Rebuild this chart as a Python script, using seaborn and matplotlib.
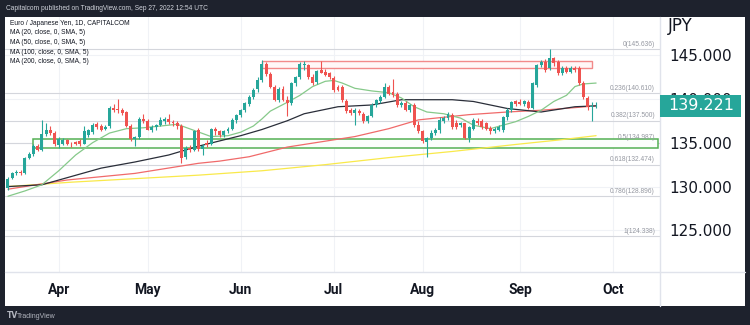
import numpy as np
import pandas as pd
import matplotlib
matplotlib.use("Agg")
import matplotlib.pyplot as plt
import matplotlib.transforms as mtrans
from matplotlib.patches import Rectangle
from matplotlib.lines import Line2D
import seaborn as sns

# ---------------- data ----------------
START = "2022-03-16"

opens = [129.8, 131.0, 131.5, 131.7, 131.5, 133.3, 133.7, 134.6, 134.2, 136.0,
         136.4, 136.1, 134.7, 134.9, 135.3, 134.9, 135.1, 135.2, 134.9, 135.9,
         136.2, 137.1, 136.9, 136.6, 136.9, 139.0, 138.8, 138.7, 138.5, 136.9,
         135.4, 135.6, 137.7, 137.5, 136.5, 136.8, 137.0, 137.5, 137.7, 137.4,
         137.2, 136.9, 133.4, 134.4, 134.2, 136.4, 134.3, 135.0, 134.8, 136.6,
         136.3, 135.9, 136.3, 136.6, 137.6, 138.2, 138.7, 139.4, 140.2, 141.1,
         142.1, 144.0, 142.8, 141.4, 139.9, 141.1, 139.9, 139.5, 141.8, 142.5,
         143.9, 143.9, 142.5, 141.9, 143.3, 143.1, 142.9, 142.4, 141.3, 141.4,
         139.8, 138.7, 138.4, 138.6, 138.3, 137.5, 138.0, 139.3, 139.8, 140.25,
         141.4, 140.8, 140.5, 139.3, 139.5, 138.7, 139.3, 137.0, 136.3, 135.1,
         135.5, 136.1, 136.4, 137.5, 137.8, 138.2, 137.3, 137.0, 137.2, 135.5,
         136.6, 137.5, 137.5, 137.2, 136.7, 136.35, 136.45, 136.4, 137.9, 138.7,
         139.7, 139.6, 139.4, 139.6, 138.9, 141.6, 143.9, 144.2, 143.5, 144.6,
         144.2, 142.9, 143.5, 143.1, 143.5, 143.5, 141.8, 140.1, 139.1, 139.15]

highs = [131.1, 131.7, 131.9, 131.9, 133.4, 133.9, 134.8, 134.8, 137.6, 137.2,
         136.9, 136.3, 135.6, 135.5, 135.4, 135.1, 135.2, 135.4, 136.9, 136.6,
         137.2, 137.4, 137.1, 137.0, 139.2, 139.4, 140.0, 139.0, 138.6, 137.1,
         135.8, 137.9, 138.3, 137.7, 137.0, 137.1, 137.9, 137.9, 138.3, 137.6,
         137.5, 137.1, 134.6, 134.7, 136.5, 136.7, 134.9, 135.3, 136.7, 136.8,
         136.5, 136.5, 136.8, 137.8, 138.3, 138.8, 139.6, 140.4, 141.2, 142.5,
         144.4, 144.2, 143.1, 141.6, 141.3, 141.5, 140.3, 141.9, 142.6, 144.2,
         144.35, 144.0, 142.8, 143.3, 144.3, 143.4, 143.1, 142.6, 141.6, 141.6,
         140.0, 139.0, 138.9, 138.8, 138.5, 138.2, 139.5, 140.0, 140.4, 141.8,
         141.6, 142.3, 140.8, 139.8, 139.7, 139.4, 139.5, 137.5, 136.5, 135.7,
         136.4, 136.7, 137.9, 138.0, 138.5, 138.4, 137.6, 137.4, 137.3, 136.9,
         137.8, 137.8, 137.7, 137.4, 136.9, 136.8, 137.0, 138.1, 138.9, 139.7,
         139.9, 140.0, 139.9, 139.9, 141.9, 144.0, 144.4, 144.5, 145.636, 144.8,
         144.4, 143.7, 143.7, 143.7, 143.8, 143.7, 142.0, 140.3, 139.6, 139.6]

lows = [129.6, 130.9, 131.3, 131.3, 131.4, 133.1, 133.5, 134.0, 134.0, 135.8,
        135.9, 134.6, 134.4, 134.7, 134.7, 134.5, 134.7, 134.6, 134.8, 135.6,
        136.0, 136.6, 136.3, 136.4, 136.7, 138.5, 138.4, 138.2, 136.8, 135.2,
        134.6, 135.4, 137.3, 136.4, 136.2, 136.4, 136.9, 137.1, 137.1, 136.9,
        136.6, 132.7, 133.1, 133.9, 134.1, 134.1, 133.6, 134.5, 134.7, 135.9,
        135.6, 135.7, 136.1, 136.5, 137.2, 137.9, 138.5, 139.2, 140.0, 140.8,
        141.9, 142.6, 141.2, 139.7, 139.6, 139.7, 138.0, 139.3, 141.5, 142.3,
        143.3, 142.3, 141.6, 141.7, 142.9, 142.6, 142.3, 140.8, 140.9, 139.6,
        138.4, 138.2, 137.0, 138.2, 137.3, 137.2, 137.9, 139.1, 139.5, 140.1,
        140.4, 140.2, 139.1, 139.1, 138.6, 138.5, 136.8, 136.1, 135.0, 133.4,
        135.3, 135.9, 136.1, 137.2, 137.6, 136.6, 136.6, 136.8, 135.4, 135.1,
        136.4, 137.0, 136.6, 136.4, 136.0, 136.1, 136.3, 136.2, 137.6, 138.5,
        139.2, 139.3, 139.2, 138.8, 138.8, 141.4, 143.6, 143.1, 143.3, 143.8,
        142.7, 142.7, 142.9, 142.9, 143.1, 141.6, 140.0, 138.7, 137.5, 138.9]

closes = [130.9, 131.5, 131.7, 131.5, 133.3, 133.7, 134.6, 134.2, 136.0, 136.4,
          136.1, 134.8, 135.4, 135.3, 134.9, 134.8, 134.9, 134.8, 136.3, 136.4,
          137.0, 136.8, 136.5, 136.8, 139.0, 138.7, 138.7, 138.4, 136.9, 135.4,
          135.6, 137.7, 137.5, 136.5, 136.8, 137.0, 137.6, 137.7, 137.4, 137.2,
          136.9, 133.3, 134.4, 134.2, 136.3, 134.3, 134.6, 134.7, 136.6, 136.3,
          135.9, 136.3, 136.6, 137.6, 138.2, 138.7, 139.5, 140.2, 141.0, 142.2,
          144.0, 142.8, 141.4, 139.9, 141.1, 139.9, 139.5, 141.8, 142.5, 144.0,
          144.0, 142.5, 141.8, 143.2, 143.0, 142.7, 142.5, 141.0, 141.0, 139.9,
          138.6, 138.4, 138.7, 138.4, 137.5, 138.0, 139.3, 139.9, 140.25, 141.4,
          140.6, 140.4, 139.3, 139.5, 138.7, 139.3, 137.0, 136.3, 135.2, 135.5,
          136.1, 136.45, 137.6, 137.8, 138.3, 136.8, 136.8, 137.2, 135.5, 136.8,
          137.6, 137.2, 136.8, 136.6, 136.3, 136.6, 136.8, 137.9, 138.7, 139.6,
          139.45, 139.4, 139.7, 138.9, 141.8, 143.9, 144.2, 143.3, 144.6, 144.05,
          142.9, 143.5, 143.1, 143.5, 143.3, 141.8, 140.25, 139.1, 139.2, 139.221]

ma20_dates = ['2022-03-16', '2022-03-22', '2022-03-28', '2022-04-01', '2022-04-07', '2022-04-13',
              '2022-04-19', '2022-04-25', '2022-04-29', '2022-05-05', '2022-05-11', '2022-05-17',
              '2022-05-23', '2022-05-27', '2022-06-01', '2022-06-06', '2022-06-08', '2022-06-10',
              '2022-06-16', '2022-06-21', '2022-06-24', '2022-06-29', '2022-07-01', '2022-07-05',
              '2022-07-08', '2022-07-14', '2022-07-20', '2022-07-25', '2022-07-28', '2022-08-02',
              '2022-08-08', '2022-08-12', '2022-08-17', '2022-08-23', '2022-08-26', '2022-08-31',
              '2022-09-05', '2022-09-08', '2022-09-13', '2022-09-16', '2022-09-20', '2022-09-22',
              '2022-09-27']
ma20_vals = [128.9, 129.5, 130.2, 131.8, 133.6, 135.0, 136.1, 136.6, 136.7, 136.9, 137.1, 136.4,
             135.7, 135.8, 136.2, 136.9, 137.7, 138.6, 139.6, 140.4, 141.4, 142.0, 142.1, 141.8,
             141.2, 140.9, 140.7, 140.1, 139.1, 138.5, 138.3, 137.8, 137.0, 136.6, 137.0, 137.4,
             138.0, 138.7, 139.7, 140.4, 141.4, 141.7, 141.8]

ma50_dates = ['2022-03-16', '2022-03-28', '2022-04-15', '2022-04-27', '2022-05-09', '2022-05-18',
              '2022-05-25', '2022-06-01', '2022-06-08', '2022-06-16', '2022-06-22', '2022-07-04',
              '2022-07-14', '2022-07-25', '2022-08-01', '2022-08-10', '2022-08-17', '2022-08-29',
              '2022-09-08', '2022-09-20', '2022-09-27']
ma50_vals = [130.0, 130.2, 132.1, 132.8, 133.6, 134.6, 135.2, 135.8, 136.5, 137.5, 138.3, 139.1,
             139.3, 139.9, 139.9, 139.9, 139.7, 138.9, 138.5, 139.1, 139.2]

ma100_dates = ['2022-03-16', '2022-04-05', '2022-04-27', '2022-05-18', '2022-05-25', '2022-06-03',
               '2022-06-16', '2022-07-08', '2022-07-20', '2022-07-29', '2022-08-10', '2022-08-16',
               '2022-08-29', '2022-09-08', '2022-09-20', '2022-09-27']
ma100_vals = [129.7, 130.75, 131.5, 132.65, 132.9, 133.4, 134.5, 135.7, 136.6, 137.6, 138.0, 138.2,
              138.5, 138.7, 139.0, 139.2]

ma200_dates = ['2022-03-16', '2022-04-06', '2022-04-27', '2022-05-18', '2022-06-08', '2022-06-29',
               '2022-07-20', '2022-08-10', '2022-08-31', '2022-09-14', '2022-09-27']
ma200_vals = [130.0, 130.5, 130.9, 131.3, 131.8, 132.5, 133.3, 134.0, 134.8, 135.3, 135.8]

fib_ratios = ['0', '0.236', '0.382', '0.5', '0.618', '0.786', '1', '1.236']
fib_levels = [145.636, 140.610, 137.500, 134.987, 132.474, 128.896, 124.338, 119.312]

resist_box = ('2022-06-08', '2022-09-26', 143.48, 144.35)
support_box = ('2022-03-24', '2022-10-17', 134.45, 135.39)

month_labels = ['Apr', 'May', 'Jun', 'Jul', 'Aug', 'Sep', 'Oct']
price_ticks = [125, 130, 135, 140, 145]
price_labels = ['125.000', '130.000', '135.000', '140.000', '145.000']

header = "Capitalcom published on TradingView.com, Sep 27, 2022 12:54 UTC"
legend_lines = ["Euro / Japanese Yen, 1D, CAPITALCOM",
                "MA (20, close, 0, SMA, 5)",
                "MA (50, close, 0, SMA, 5)",
                "MA (100, close, 0, SMA, 5)",
                "MA (200, close, 0, SMA, 5)"]

# ---------------- figure ----------------
sns.set_theme(style="white")
plt.rcParams['font.family'] = ['DejaVu Sans']

W, H = 750, 325
fig = plt.figure(figsize=(7.5, 3.25), dpi=100)
fig.patch.set_facecolor('#1e222d')

def fx(x):
    return x / W

def fy(y):
    return 1 - y / H

fig.add_artist(Rectangle((fx(5), fy(306)), fx(745) - fx(5), fy(17) - fy(306),
                         transform=fig.transFigure, facecolor='white',
                         edgecolor='none', zorder=-5))

ax = fig.add_axes([fx(5), fy(272), fx(660) - fx(5), fy(17) - fy(272)])
ax.set_facecolor('white')
for s in ax.spines.values():
    s.set_visible(False)

cal = pd.bdate_range(START, '2022-12-30')

def pos(dlist):
    return cal.get_indexer(pd.to_datetime(dlist))

xb = np.arange(len(closes))
o = np.array(opens); h = np.array(highs); l = np.array(lows); c = np.array(closes)

# fib lines
for r, lv in zip(fib_ratios, fib_levels):
    ax.axhline(lv, color='#d4d6dc', lw=0.8, zorder=1)
    ax.annotate(f"{r}({lv:.3f})", xy=(1.0, lv), xycoords=('axes fraction', 'data'),
                xytext=(-3.6, 1.2), textcoords='offset points', ha='right', va='bottom',
                fontsize=4.8, color='#9598a1', family='Liberation Sans', annotation_clip=False,
                clip_on=True)

# boxes
rb = pos([resist_box[0], resist_box[1]])
ax.add_patch(Rectangle((rb[0], resist_box[2]), rb[1] - rb[0], resist_box[3] - resist_box[2],
                       facecolor='#fff7f7', edgecolor='#f28a8a', lw=1.0, zorder=2.2))
sb = pos([support_box[0], support_box[1]])
ax.add_patch(Rectangle((sb[0], support_box[2]), sb[1] - sb[0] + 0.6, support_box[3] - support_box[2],
                       facecolor='#fbfefb', edgecolor='#55b055', lw=1.1, zorder=2.2))

# moving averages
for dts, vals, col in [(ma200_dates, ma200_vals, '#f9e94a'),
                       (ma100_dates, ma100_vals, '#f06a6a'),
                       (ma50_dates, ma50_vals, '#2a2e39'),
                       (ma20_dates, ma20_vals, '#86c98a')]:
    sns.lineplot(x=pos(dts), y=vals, ax=ax, color=col, lw=0.9, zorder=2.5,
                 estimator=None, sort=False, legend=False)

# candles
up = c >= o
cols = np.where(up, '#26a69a', '#ef5350')
ax.vlines(xb, l, h, colors=cols, lw=0.8, zorder=3)
ax.bar(xb, np.maximum(np.abs(c - o), 0.07), bottom=np.minimum(o, c), width=0.7,
       color=cols, edgecolor='none', linewidth=0, zorder=4)

ax.set_xlim(-0.7, 154.1)
ax.set_ylim(120.26, 149.33)

# axes ticks
month_pos = [int(np.where(cal.month == m)[0][0]) for m in range(4, 11)]
ax.set_xticks(month_pos)
ax.set_xticklabels(month_labels, fontfamily='Roboto', fontweight='bold',
                   fontsize=10, color='#131722')
ax.tick_params(axis='x', length=0, pad=8)
ax.yaxis.tick_right()
ax.set_yticks(price_ticks)
ax.set_yticklabels(price_labels, fontsize=11, color='#131722')
ax.tick_params(axis='y', length=0, pad=7)
ax.grid(True, color='#f0f2f6', lw=0.8)
ax.set_axisbelow(True)
ax.set_xlabel('')
ax.set_ylabel('')

# separators
fig.add_artist(Line2D([fx(660), fx(660)], [fy(17), fy(306)], transform=fig.transFigure,
                      color='#e0e3eb', lw=1, zorder=3))
fig.add_artist(Line2D([fx(5), fx(745)], [fy(272), fy(272)], transform=fig.transFigure,
                      color='#e0e3eb', lw=1, zorder=3))

# last price box
trans = mtrans.blended_transform_factory(fig.transFigure, ax.transData)
last = closes[-1]
bh = 22 / 8.77
fig.add_artist(Rectangle((fx(660), last - bh / 2), fx(741) - fx(660), bh, transform=trans,
                         facecolor='#26a69a', edgecolor='none', zorder=5))
fig.text(fx(701), last, f"{last:.3f}", transform=trans, color='white', fontsize=11.5,
         ha='center', va='center', zorder=6)

# texts
fig.text(fx(6), fy(9), header, color='#d1d4dc', fontsize=4.8, family='Liberation Sans',
         va='center', ha='left')
for i, t in enumerate(legend_lines):
    fig.text(fx(10), fy(23.5 + 9.5 * i), t, color='#131722', fontsize=4.8,
             family='Liberation Sans', va='center', ha='left')
fig.text(fx(668), fy(31), 'JPY', color='#131722', fontsize=12, va='baseline', ha='left')
fig.text(fx(7), fy(316), 'TV', color='#b2b5be', fontsize=5.5, fontweight='bold',
         va='center', ha='left')
fig.text(fx(17), fy(316), 'TradingView', color='#b2b5be', fontsize=5,
         family='Liberation Sans', va='center', ha='left')

fig.savefig('out.png', dpi=100, facecolor=fig.get_facecolor())
